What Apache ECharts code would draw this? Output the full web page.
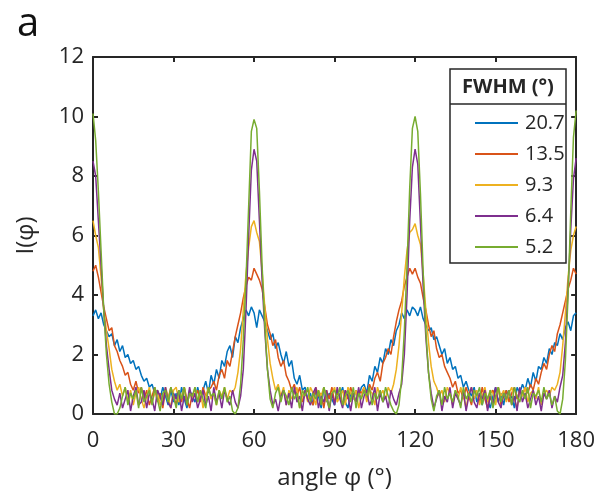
<!DOCTYPE html>
<html>
<head>
<meta charset="utf-8">
<script src="https://cdn.jsdelivr.net/npm/echarts@6/dist/echarts.min.js"></script>
<style>
  html, body { margin: 0; padding: 0; background: #fff; }
  #chart { width: 598px; height: 495px; }
</style>
</head>
<body>
<div id="chart"></div>
<script>
// Angular intensity profiles I(φ), sampled every 1° from 0° to 180°
const angleStep = 1;
const legendTitle = 'FWHM (°)';
const seriesNames = ['20.7', '13.5', '9.3', '6.4', '5.2'];
const seriesColors = ['#0072BD', '#D95319', '#EDB120', '#7E2F8E', '#77AC30'];
const xTicks = [0, 30, 60, 90, 120, 150, 180];
const yTicks = [0, 2, 4, 6, 8, 10, 12];

const fwhm207 = [
  3.3,3.5,3.2,3.4,3.0,2.8,2.6,2.7,2.3,2.5,
  2.1,2.3,1.9,2.0,1.7,1.8,1.5,1.6,1.3,1.1,
  1.2,0.9,1.0,0.7,0.8,0.5,0.9,0.6,0.3,0.8,
  0.4,0.7,0.3,0.9,0.5,0.2,0.8,0.6,0.4,0.9,
  0.5,0.8,1.1,0.7,1.3,1.0,1.5,1.2,1.8,1.6,
  2.1,2.3,1.9,2.6,2.4,2.9,3.2,3.5,3.3,3.6,
  3.4,2.9,3.5,3.3,3.1,2.8,2.5,2.7,2.2,2.4,
  2.0,1.7,2.1,1.6,1.8,1.2,1.0,1.3,0.8,0.9,
  0.5,0.7,0.3,0.8,0.6,0.2,0.9,0.4,0.7,0.5,
  0.3,0.8,0.6,0.9,0.4,0.2,0.7,0.5,0.8,0.6,
  0.9,1.0,0.7,1.3,1.1,1.6,1.4,1.9,1.7,2.2,
  2.0,2.5,2.3,2.8,3.0,3.4,3.2,3.5,3.3,3.6,
  3.5,3.3,3.6,3.2,3.0,2.8,2.9,2.5,2.6,2.3,
  2.0,2.2,1.7,1.9,1.5,1.6,1.2,1.3,0.9,1.1,
  0.8,0.6,0.9,0.4,0.7,0.3,0.8,0.5,0.2,0.6,
  0.9,0.4,0.7,0.3,0.8,0.5,0.6,0.2,0.9,0.7,
  1.0,0.8,1.2,0.9,1.4,1.1,1.6,1.5,1.9,1.7,
  2.2,2.0,2.4,2.3,2.7,2.5,2.9,3.1,2.8,3.3,
  3.4
];

const fwhm135 = [
  4.8,5.0,4.6,4.1,3.6,3.2,2.8,2.9,2.3,2.1,
  1.8,1.6,1.3,1.4,1.0,0.8,1.1,0.7,0.9,0.5,
  0.8,0.3,0.6,0.9,0.4,0.7,0.2,0.8,0.5,0.9,
  0.6,0.3,0.8,0.4,0.9,0.5,0.2,0.7,0.6,0.8,
  0.4,0.9,0.6,0.8,0.9,1.1,0.8,1.3,1.5,1.2,
  1.8,1.6,2.1,2.6,3.0,3.4,3.9,4.3,4.6,4.5,
  4.9,4.7,4.5,4.2,3.6,3.0,2.7,2.3,2.5,1.9,
  1.6,1.8,1.3,1.1,0.8,1.0,0.6,0.9,0.4,0.7,
  0.8,0.5,0.3,0.9,0.6,0.7,0.2,0.8,0.5,0.9,
  0.4,0.7,0.6,0.3,0.8,0.5,0.9,0.6,0.4,0.8,
  0.7,0.9,0.5,1.0,0.8,1.2,1.4,1.1,1.7,1.9,
  2.2,2.0,2.6,3.1,3.5,3.8,4.3,4.6,4.9,4.7,
  4.9,4.6,4.4,3.9,3.5,3.0,2.6,2.8,2.2,1.9,
  2.0,1.6,1.4,1.2,0.9,1.1,0.7,0.8,0.5,0.9,
  0.6,0.3,0.8,0.7,0.4,0.9,0.5,0.2,0.7,0.8,
  0.5,0.9,0.3,0.6,0.8,0.4,0.7,0.9,0.5,0.8,
  0.6,0.9,0.7,1.0,0.8,1.2,1.0,1.4,1.7,1.5,
  2.0,2.3,2.1,2.7,3.0,3.4,3.8,4.2,4.5,4.9,
  4.7
];

const fwhm93 = [
  6.5,6.0,5.6,4.6,3.5,2.8,2.2,1.5,1.1,0.8,
  1.0,0.6,0.9,0.4,0.8,0.3,0.7,0.9,0.5,0.2,
  0.6,0.9,0.4,0.7,0.8,0.3,0.5,0.9,0.6,0.2,
  0.8,0.9,0.4,0.6,0.9,0.3,0.7,0.5,0.9,0.4,
  0.8,0.2,0.6,0.9,0.5,0.7,0.3,0.8,0.6,0.9,
  0.5,0.8,0.7,0.9,1.4,2.2,3.5,4.7,5.6,6.3,
  6.5,6.1,5.8,4.8,3.6,2.5,1.7,1.2,0.8,1.0,
  0.6,0.9,0.3,0.8,0.5,0.7,0.9,0.2,0.6,0.8,
  0.4,0.9,0.7,0.3,0.8,0.6,0.9,0.5,0.2,0.7,
  0.9,0.4,0.6,0.8,0.3,0.9,0.7,0.5,0.8,0.2,
  0.6,0.9,0.4,0.8,0.7,0.3,0.9,0.6,0.8,0.5,
  0.9,0.7,1.0,1.5,2.3,3.4,4.6,5.5,6.1,6.2,
  6.4,6.0,5.7,4.7,3.5,2.4,1.6,1.1,0.9,0.6,
  0.8,0.4,0.9,0.7,0.3,0.8,0.5,0.9,0.6,0.2,
  0.7,0.9,0.5,0.8,0.3,0.6,0.9,0.4,0.8,0.7,
  0.3,0.9,0.6,0.8,0.4,0.7,0.9,0.5,0.2,0.8,
  0.6,0.9,0.4,0.7,0.8,0.5,0.9,0.3,0.7,0.8,
  0.6,0.9,0.8,1.0,1.4,2.3,3.4,4.6,5.5,6.0,
  6.3
];

const fwhm64 = [
  8.5,8.0,6.5,5.0,3.5,2.3,1.5,0.8,0.5,0.3,
  0.7,0.2,0.5,0.8,0.1,0.6,0.9,0.3,0.4,0.8,
  0.2,0.7,0.5,0.1,0.8,0.6,0.3,0.9,0.4,0.2,
  0.7,0.5,0.8,0.1,0.6,0.3,0.9,0.4,0.7,0.2,
  0.5,0.8,0.3,0.6,0.1,0.9,0.4,0.7,0.2,0.8,
  0.5,0.3,0.8,0.4,0.2,0.6,1.5,3.5,6.0,8.2,
  8.9,8.5,6.5,4.5,2.8,1.5,0.8,0.3,0.5,0.1,
  0.6,0.8,0.3,0.7,0.2,0.9,0.4,0.6,0.1,0.8,
  0.5,0.3,0.7,0.9,0.2,0.6,0.4,0.8,0.1,0.7,
  0.3,0.9,0.5,0.2,0.8,0.6,0.1,0.7,0.4,0.9,
  0.2,0.6,0.8,0.3,0.5,0.9,0.1,0.7,0.4,0.6,
  0.2,0.8,0.5,0.3,0.7,1.0,2.0,4.0,6.5,8.3,
  8.9,8.4,6.4,4.3,2.6,1.4,0.7,0.2,0.5,0.8,
  0.1,0.6,0.4,0.9,0.2,0.7,0.5,0.3,0.8,0.1,
  0.6,0.9,0.4,0.2,0.7,0.5,0.8,0.1,0.6,0.3,
  0.9,0.4,0.2,0.7,0.5,0.8,0.3,0.6,0.1,0.9,
  0.4,0.7,0.2,0.5,0.8,0.3,0.6,0.1,0.7,0.5,
  0.8,0.2,0.6,0.4,0.9,1.3,2.4,4.2,6.2,7.9,
  8.6
];

const fwhm52 = [
  10.1,9.2,7.5,5.5,3.5,2.0,1.0,0.4,0.0,0.0,
  0.2,0.6,0.9,0.3,0.7,0.5,0.8,0.2,0.9,0.4,
  0.6,0.8,0.3,0.9,0.5,0.1,0.7,0.8,0.4,0.9,
  0.6,0.2,0.8,0.5,0.9,0.3,0.7,0.6,0.9,0.4,
  0.8,0.5,0.2,0.9,0.6,0.7,0.3,0.8,0.5,0.9,
  0.4,0.6,0.1,0.0,0.2,1.0,2.5,4.5,7.0,9.5,
  9.9,9.6,7.5,5.0,3.0,1.5,0.5,0.2,0.7,0.9,
  0.4,0.8,0.6,0.3,0.9,0.5,0.7,0.2,0.8,0.6,
  0.9,0.4,0.7,0.5,0.8,0.3,0.9,0.6,0.2,0.7,
  0.8,0.5,0.9,0.3,0.6,0.8,0.4,0.9,0.2,0.7,
  0.5,0.8,0.6,0.9,0.3,0.7,0.5,0.8,0.4,0.9,
  0.6,0.3,0.1,0.0,0.3,1.2,2.8,5.0,7.6,9.6,
  10.0,9.5,7.4,4.8,2.8,1.4,0.5,0.1,0.6,0.8,
  0.3,0.9,0.5,0.7,0.4,0.8,0.6,0.2,0.9,0.5,
  0.7,0.4,0.8,0.6,0.9,0.3,0.7,0.5,0.8,0.2,
  0.6,0.9,0.4,0.7,0.5,0.8,0.3,0.9,0.6,0.4,
  0.8,0.5,0.9,0.2,0.7,0.6,0.8,0.4,0.9,0.5,
  0.7,0.3,0.6,0.1,0.0,0.5,1.8,4.0,6.8,9.3,
  10.2
];

const profiles = [fwhm207, fwhm135, fwhm93, fwhm64, fwhm52];

const textColor = '#262626';
const fontFamily = '"Open Sans", "Noto Sans", sans-serif';

const chart = echarts.init(document.getElementById('chart'), null, { renderer: 'canvas' });

const axisCommon = {
  type: 'value',
  axisLine: { show: true, onZero: false, lineStyle: { color: textColor, width: 2 } },
  axisTick: { show: true, inside: true, length: 5, lineStyle: { color: textColor, width: 2 } },
  splitLine: { show: false }
};

const seriesList = profiles.map((vals, k) => ({
  name: seriesNames[k],
  type: 'line',
  xAxisIndex: 0,
  yAxisIndex: 0,
  data: vals.map((v, i) => [i * angleStep, v]),
  symbol: 'none',
  lineStyle: { color: seriesColors[k], width: 1.5 },
  itemStyle: { color: seriesColors[k] },
  animation: false,
  silent: true
}));

chart.setOption({
  backgroundColor: '#fff',
  animation: false,
  grid: { left: 93, right: 19, top: 57, bottom: 80, containLabel: false },
  xAxis: [
    Object.assign({}, axisCommon, {
      position: 'bottom',
      min: xTicks[0], max: xTicks[xTicks.length - 1], interval: 30,
      axisLabel: { color: textColor, fontSize: 22, fontFamily: fontFamily, margin: 16 },
      name: 'angle φ (°)',
      nameLocation: 'middle',
      nameGap: 52,
      nameTextStyle: { color: textColor, fontSize: 24, fontFamily: fontFamily }
    }),
    Object.assign({}, axisCommon, {
      position: 'top',
      min: xTicks[0], max: xTicks[xTicks.length - 1], interval: 30,
      axisLabel: { show: false }
    })
  ],
  yAxis: [
    Object.assign({}, axisCommon, {
      position: 'left',
      min: yTicks[0], max: yTicks[yTicks.length - 1], interval: 2,
      axisLabel: { color: textColor, fontSize: 22, fontFamily: fontFamily, margin: 9 },
      name: 'I(φ)',
      nameLocation: 'middle',
      nameGap: 55,
      nameRotate: 90,
      nameTextStyle: { color: textColor, fontSize: 24, fontFamily: fontFamily }
    }),
    Object.assign({}, axisCommon, {
      position: 'right',
      min: yTicks[0], max: yTicks[yTicks.length - 1], interval: 2,
      axisLabel: { show: false }
    })
  ],
  legend: {
    orient: 'vertical',
    left: 470,
    top: 107,
    z: 20,
    icon: 'rect',
    itemWidth: 43,
    itemHeight: 2,
    itemGap: 9,
    textStyle: { color: textColor, fontSize: 20, fontFamily: fontFamily, lineHeight: 22, padding: [0, 0, 0, 2] },
    data: seriesNames,
    selectedMode: false
  },
  graphic: [
    {
      type: 'rect',
      shape: { x: 450, y: 69, width: 116, height: 194 },
      style: { fill: '#fff', stroke: textColor, lineWidth: 1.5 },
      z: 5
    },
    {
      type: 'line',
      shape: { x1: 450, y1: 104, x2: 566, y2: 104 },
      style: { stroke: textColor, lineWidth: 1.5 },
      z: 6
    },
    {
      type: 'text',
      x: 508, y: 87,
      style: {
        text: legendTitle,
        fill: textColor,
        font: 'bold 20px "Open Sans", "Noto Sans", sans-serif',
        align: 'center',
        verticalAlign: 'middle'
      },
      z: 6
    },
    {
      type: 'text',
      x: 17, y: 25,
      style: {
        text: 'a',
        fill: '#111',
        font: '40px "Open Sans", "Noto Sans", sans-serif',
        verticalAlign: 'middle'
      },
      z: 6
    }
  ],
  series: seriesList
});
</script>
</body>
</html>
